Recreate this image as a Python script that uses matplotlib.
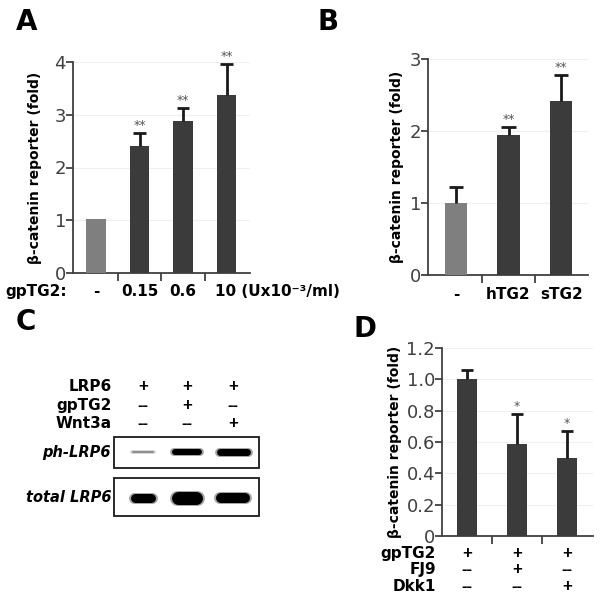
import numpy as np
import matplotlib
matplotlib.use("Agg")
import matplotlib.pyplot as plt
from matplotlib.patches import Rectangle

plt.rcParams['font.family'] = ['DejaVu Sans']

W, H = 601, 599

# ---- data ----
# panel A
a_labels = ['-', '0.15', '0.6', '10 (Ux10⁻³/ml)']
a_vals = [1.02, 2.40, 2.88, 3.38]
a_err = [0.0, 0.26, 0.25, 0.59]
a_stars = ['', '**', '**', '**']
# panel B
b_labels = ['-', 'hTG2', 'sTG2']
b_vals = [1.00, 1.94, 2.42]
b_err = [0.22, 0.12, 0.36]
b_stars = ['', '**', '**']
# panel D
d_vals = [1.00, 0.59, 0.50]
d_err = [0.06, 0.19, 0.17]
d_stars = ['', '*', '*']
d_rows = ['gpTG2', 'FJ9', 'Dkk1']
d_signs = [['+', '+', '+'], ['--', '+', '--'], ['--', '--', '+']]
# panel C
c_rows = ['LRP6', 'gpTG2', 'Wnt3a']
c_signs = [['+', '+', '+'], ['--', '+', '--'], ['--', '--', '+']]
c_blots = ['ph-LRP6', 'total LRP6']
# band widths (px), thickness (px) and darkness per lane
ph_width = [24, 32, 36]
ph_thick = [2, 6, 7]
ph_dark = [0.3, 1.0, 1.0]
tot_width = [27, 33, 36]
tot_thick = [9, 13, 10]
tot_dark = [1.0, 1.0, 1.0]

light = '#7f7f7f'
dark = '#3b3b3b'
tick_col = '#404040'
sign_font = ['Liberation Sans', 'DejaVu Sans']


def rect(x0, y0, x1, y1):
    return [x0 / W, 1 - y1 / H, (x1 - x0) / W, (y1 - y0) / H]


fig = plt.figure(figsize=(W / 100, H / 100), dpi=100)


def bar_panel(r, vals, errs, stars, colors, ylim, yticks, yticklabels, width, xlim, lpad):
    ax = fig.add_axes(rect(*r))
    x = np.arange(len(vals))
    ax.bar(x, vals, width=width, color=colors, zorder=3)
    tops = np.array(vals) + np.array(errs)
    for xi, v, t, s in zip(x, vals, tops, stars):
        if t > v:
            ax.vlines(xi, v, t, color='#1a1a1a', lw=2, zorder=4)
            ax.hlines(t, xi - width * 0.32, xi + width * 0.32, color='#1a1a1a', lw=2, zorder=4)
        if s:
            ax.text(xi, t + (ylim[1] - ylim[0]) * 0.005, s, ha='center', va='bottom',
                    fontsize=9, color='#555555')
    ax.set_xlim(*xlim)
    ax.set_ylim(*ylim)
    ax.set_yticks(yticks)
    ax.set_yticklabels(yticklabels, fontsize=13, color=tick_col)
    ax.set_xticks(x[:-1] + 0.5)
    ax.set_xticklabels([])
    ax.tick_params(axis='y', length=5, width=1.3, color=tick_col, pad=0)
    ax.tick_params(axis='x', length=6, width=1.3, color=tick_col)
    for sp in ['top', 'right']:
        ax.spines[sp].set_visible(False)
    for sp in ['left', 'bottom']:
        ax.spines[sp].set_color(tick_col)
        ax.spines[sp].set_linewidth(1.3)
    ax.yaxis.grid(True, color='#f0f0f0', lw=0.8, zorder=0)
    ax.set_ylabel('β-catenin reporter (fold)', fontsize=10, fontweight='bold', labelpad=lpad)
    ax.patch.set_alpha(0)
    return ax


# ---- panel A ----
axA = bar_panel((73, 62, 250, 273), a_vals, a_err, a_stars, [light] + [dark] * 3,
                (0, 4), [0, 1, 2, 3, 4], ['0', '1', '2', '3', '4'], 0.44, (-0.53, 3.54), 9)
for i, lab in enumerate(a_labels):
    ha = 'center' if i < 3 else 'left'
    xx = i if i < 3 else i - 0.27
    axA.text(xx, -0.2, lab, ha=ha, va='top', fontsize=11, fontweight='bold', clip_on=False)
axA.text(-0.66, -0.2, 'gpTG2:', ha='right', va='top', fontsize=11, fontweight='bold',
         clip_on=False)

# ---- panel B ----
axB = bar_panel((428, 59, 588, 275), b_vals, b_err, b_stars, [light, dark, dark],
                (0, 3), [0, 1, 2, 3], ['0', '1', '2', '3'], 0.42, (-0.53, 2.51), 4)
for i, lab in enumerate(b_labels):
    axB.text(i, -0.16, lab, ha='center', va='top', fontsize=11, fontweight='bold',
             clip_on=False)

# ---- panel D ----
axD = bar_panel((442, 348, 593, 536), d_vals, d_err, d_stars, [dark] * 3, (0, 1.2),
                [0, 0.2, 0.4, 0.6, 0.8, 1.0, 1.2],
                ['0', '0.2', '0.4', '0.6', '0.8', '1.0', '1.2'], 0.4, (-0.5, 2.52), 3)
for k, row in enumerate(d_rows):
    yy = -0.11 - k * 0.105
    axD.text(-0.62, yy, row, ha='right', va='center', fontsize=11, fontweight='bold',
             clip_on=False)
    for i, s in enumerate(d_signs[k]):
        axD.text(i, yy, s, ha='center', va='center', fontsize=12, fontweight='bold',
                 family=sign_font, clip_on=False)

# ---- panel C (blot) ----
axC = fig.add_axes(rect(0, 300, 300, 599))
axC.set_xlim(0, 300)
axC.set_ylim(599, 300)
axC.axis('off')
lanes = [143, 187, 233]
row_y = [386, 405, 423]
for k, row in enumerate(c_rows):
    axC.text(112, row_y[k], row, ha='right', va='center', fontsize=11, fontweight='bold')
    for i, s in enumerate(c_signs[k]):
        axC.text(lanes[i], row_y[k], s, ha='center', va='center', fontsize=12,
                 fontweight='bold', family=sign_font)
boxes = [(114, 437, 259, 468), (114, 478, 259, 516)]
for (x0, y0, x1, y1), lab in zip(boxes, c_blots):
    axC.add_patch(Rectangle((x0, y0), x1 - x0, y1 - y0, fill=False, lw=1.3, ec='#1a1a1a'))
    axC.text(x0 - 3, (y0 + y1) / 2, lab, ha='right', va='center', fontsize=10.5,
             fontweight='bold', fontstyle='italic')
band_sets = [(ph_width, ph_thick, ph_dark, 452), (tot_width, tot_thick, tot_dark, 498)]
for widths, thick, darks, yc in band_sets:
    for xc, w, t, d in zip(lanes, widths, thick, darks):
        g = (1 - d) * 0.8
        # soft halo then core
        axC.plot([xc - w / 2 + t / 2, xc + w / 2 - t / 2], [yc, yc], color=(g, g, g),
                 lw=(t + 2) * 0.72, solid_capstyle='round', alpha=0.35)
        axC.plot([xc - w / 2 + t / 2 + 1, xc + w / 2 - t / 2 - 1], [yc, yc], color=(g, g, g),
                 lw=t * 0.72, solid_capstyle='round')

# panel letters
for lab, (px, py) in zip('ABCD', [(16, 30), (317, 30), (16, 330), (353, 337)]):
    fig.text(px / W, 1 - py / H, lab, fontsize=20, fontweight='bold', ha='left', va='baseline')

fig.savefig('out.png', dpi=100)
